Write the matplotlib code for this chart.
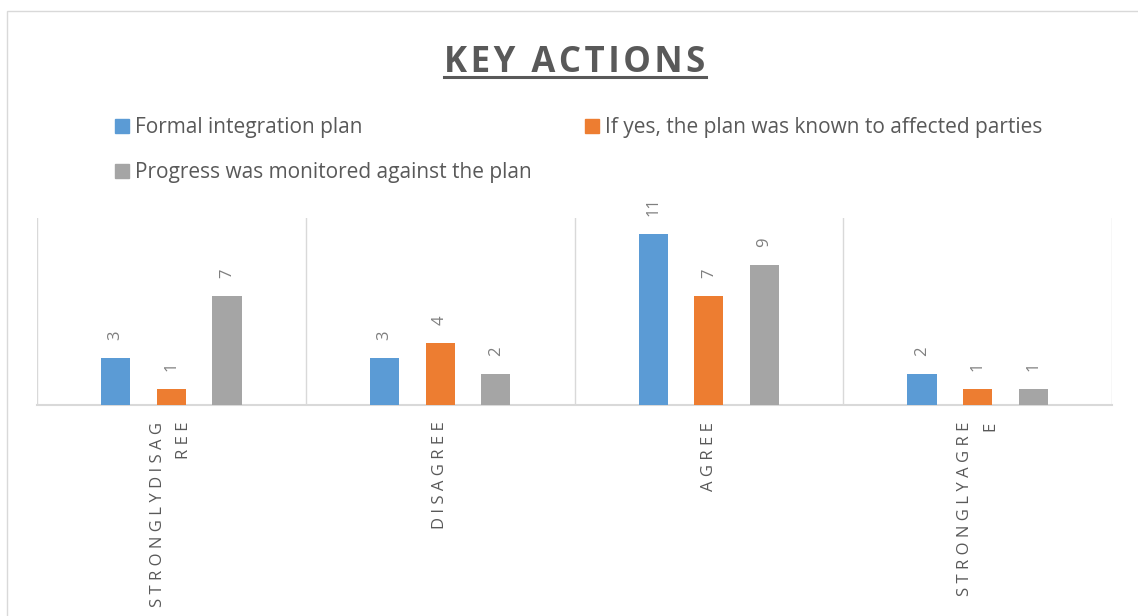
import numpy as np
import matplotlib.pyplot as plt
from matplotlib.patches import Patch, Rectangle
from matplotlib.lines import Line2D

plt.rcParams['font.family'] = ['Open Sans', 'DejaVu Sans']

# dados do gráfico
categories = ['STRONGLYDISAG\nREE', 'DISAGREE', 'AGREE', 'STRONGLYAGRE\nE']
series_names = ['Formal integration plan',
                'If yes, the plan was known to affected parties',
                'Progress was monitored against the plan']
formal_plan = [3, 3, 11, 2]
plan_known = [1, 4, 7, 1]
progress_monitored = [7, 2, 9, 1]

colors = ['#5B9BD5', '#ED7D31', '#A5A5A5']
W, H = 1138, 616

fig = plt.figure(figsize=(W / 100, H / 100), dpi=100)

# moldura externa do gráfico (estilo Excel)
fig.patches.append(Rectangle((7 / W, -0.05), 1.1, 1 - 11 / H + 0.05, transform=fig.transFigure,
                             fill=False, edgecolor='#D9D9D9', lw=1))

ax = fig.add_axes([37 / W, 1 - 405 / H, (1112 - 37) / W, (405 - 218) / H])
x = np.arange(len(categories))
offset = 0.207
width = 0.108
all_series = [formal_plan, plan_known, progress_monitored]
for i, vals in enumerate(all_series):
    ax.bar(x + (i - 1) * offset, vals, width, color=colors[i], zorder=3)
    for xi, v in zip(x + (i - 1) * offset, vals):
        ax.annotate(str(v), (xi, v), xytext=(0, 13), textcoords='offset points',
                    ha='center', va='bottom', rotation=90, fontsize=12, color='#7F7F7F')

ax.set_xlim(-0.5, len(categories) - 0.5)
ax.set_ylim(0, 12)
for sep in np.arange(-0.5, len(categories), 1.0):
    ax.axvline(sep, color='#D9D9D9', lw=1, zorder=1)
for s in ['top', 'left', 'right']:
    ax.spines[s].set_visible(False)
ax.spines['bottom'].set_color('#D9D9D9')
ax.spines['bottom'].set_linewidth(1.5)
ax.set_yticks([])
ax.set_xticks(x)
spaced = ['\n'.join(' '.join(line) for line in c.split('\n')) for c in categories]
ax.set_xticklabels(spaced, rotation=90, fontsize=12, color='#595959', linespacing=1.85)
for lbl in ax.get_xticklabels():
    lbl.set_multialignment('right')
ax.tick_params(axis='x', length=0, pad=12)

# título com espaçamento entre letras
title = fig.text(575 / W, 1 - 72 / H, '\u200a'.join('KEY ACTIONS'), ha='center', va='baseline',
                 fontsize=25, fontweight='bold', color='#595959')
fig.canvas.draw()
bb = title.get_window_extent()
fig.lines.append(Line2D([bb.x0 / W, bb.x1 / W], [1 - 77 / H, 1 - 77 / H], transform=fig.transFigure,
                        color='#595959', lw=2.2))

handles = [Patch(color=colors[0]), Patch(color=colors[2]), Patch(color=colors[1])]
labels = [series_names[0], series_names[2], series_names[1]]
fig.legend(handles, labels, ncol=2, loc='upper left', bbox_to_anchor=(115 / W, 1 - 117 / H),
           frameon=False, fontsize=15, handlelength=0.67, handleheight=0.67, handletextpad=0.29,
           labelspacing=1.16, columnspacing=2.55, borderpad=0, borderaxespad=0,
           labelcolor='#595959')

plt.savefig('out.png', dpi=100)
